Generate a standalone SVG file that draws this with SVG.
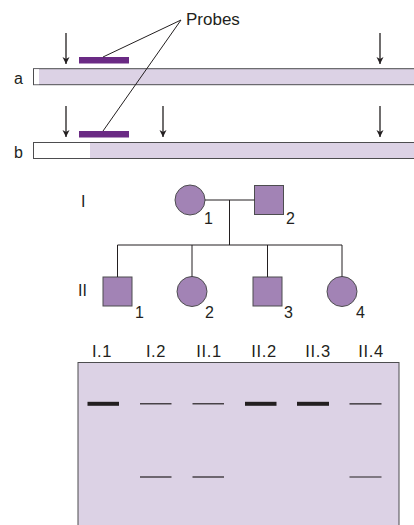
<svg xmlns="http://www.w3.org/2000/svg" width="414" height="525" viewBox="0 0 414 525">
<defs>
<marker id="ah" viewBox="0 0 10 10" refX="10" refY="5" markerWidth="7" markerHeight="9" markerUnits="userSpaceOnUse" orient="auto">
<path d="M0,0 L10,5 L0,10 L3,5 Z" fill="#231f20"/>
</marker>
</defs>
<style>
text{font-family:"Liberation Sans",Arial,sans-serif;font-size:16px;fill:#231f20}
.lane{font-size:16.5px;letter-spacing:0.6px}
.arr{stroke:#231f20;stroke-width:1.3;fill:none}
.bar{fill:#dcd2e5;stroke:#4d4d4f;stroke-width:1}
.probe{fill:#6a2a84}
.ind{fill:#a283b5;stroke:#4d4d4f;stroke-width:1}
.ln{stroke:#231f20;stroke-width:1;fill:none}
.thick{stroke:#231f20;stroke-width:4}
.thin{stroke:#231f20;stroke-width:1.2}
</style>
<rect width="414" height="525" fill="#fff"/>
<g id="probes-label">
<text x="186" y="25" style="font-size:17px">Probes</text>
</g>
<g id="chrom-a">
<rect class="bar" x="33.5" y="68.7" width="390" height="16"/>
<rect x="34" y="69.2" width="5" height="15" fill="#fff"/>
<text x="14" y="84">a</text>
<rect class="probe" x="79" y="57" width="50" height="6.5"/>
</g>
<g id="chrom-b">
<rect class="bar" x="33.5" y="142.5" width="390" height="16"/>
<rect x="34" y="143" width="56" height="15" fill="#fff"/>
<text x="14" y="158">b</text>
<rect class="probe" x="79" y="131" width="50" height="6.5"/>
</g>
<g id="ped-I1"><circle class="ind" cx="190" cy="200" r="15"/><text x="204" y="224">1</text></g>
<g id="ped-I2"><rect class="ind" x="254.5" y="185.5" width="29" height="29"/><text x="286" y="224">2</text></g>
<g id="ped-II1"><rect class="ind" x="103" y="277" width="29" height="29"/><text x="135" y="318">1</text></g>
<g id="ped-II2"><circle class="ind" cx="192" cy="291.5" r="15"/><text x="205" y="318">2</text></g>
<g id="ped-II3"><rect class="ind" x="253" y="277" width="29" height="29"/><text x="284" y="318">3</text></g>
<g id="ped-II4"><circle class="ind" cx="342" cy="291.5" r="15"/><text x="356" y="318">4</text></g>
<g id="gen-labels">
<text x="81" y="207">I</text>
<text x="78" y="296">II</text>
</g>
<g id="gel">
<rect x="78" y="362.5" width="321" height="170" fill="#dcd2e5" stroke="#4d4d4f" stroke-width="1"/>
<g text-anchor="middle" class="lane">
<text class="lane" x="102" y="357">I.1</text>
<text class="lane" x="156" y="357">I.2</text>
<text class="lane" x="209" y="357">II.1</text>
<text class="lane" x="264" y="357">II.2</text>
<text class="lane" x="318" y="357">II.3</text>
<text class="lane" x="371" y="357">II.4</text>
</g>
<line class="thick" x1="87.5" y1="403.8" x2="119" y2="403.8"/>
<line class="thin" x1="140" y1="403.8" x2="171.5" y2="403.8"/>
<line class="thin" x1="192.5" y1="403.8" x2="224" y2="403.8"/>
<line class="thick" x1="245" y1="403.8" x2="276.5" y2="403.8"/>
<line class="thick" x1="297" y1="403.8" x2="329" y2="403.8"/>
<line class="thin" x1="349.5" y1="403.8" x2="381.5" y2="403.8"/>
<line class="thin" x1="140" y1="477" x2="171.5" y2="477"/>
<line class="thin" x1="192.5" y1="477" x2="224" y2="477"/>
<line class="thin" x1="349.5" y1="477" x2="381.5" y2="477"/>
</g>
<g id="connectors">
<line class="ln" x1="181" y1="20" x2="103" y2="57"/>
<line class="ln" x1="181" y1="20" x2="103" y2="131"/>
<line class="arr" x1="66" y1="33" x2="66" y2="64" marker-end="url(#ah)"/>
<line class="arr" x1="380" y1="33" x2="380" y2="64" marker-end="url(#ah)"/>
<line class="arr" x1="66" y1="106" x2="66" y2="137" marker-end="url(#ah)"/>
<line class="arr" x1="163" y1="106" x2="163" y2="137" marker-end="url(#ah)"/>
<line class="arr" x1="380" y1="106" x2="380" y2="137" marker-end="url(#ah)"/>
<line class="ln" x1="205" y1="200" x2="254.5" y2="200"/>
<line class="ln" x1="229.5" y1="200" x2="229.5" y2="245"/>
<line class="ln" x1="117.5" y1="245" x2="342" y2="245"/>
<line class="ln" x1="117.5" y1="245" x2="117.5" y2="277"/>
<line class="ln" x1="192" y1="245" x2="192" y2="276.5"/>
<line class="ln" x1="267.5" y1="245" x2="267.5" y2="277"/>
<line class="ln" x1="342" y1="245" x2="342" y2="276.5"/>
</g>
</svg>
